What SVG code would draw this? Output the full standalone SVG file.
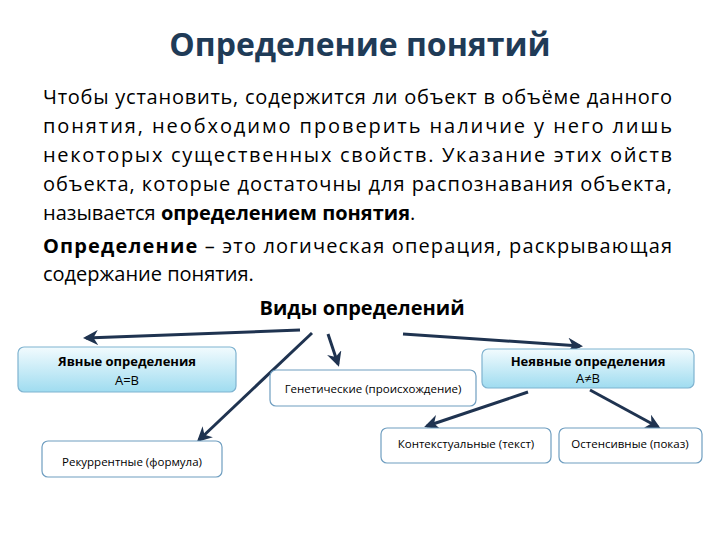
<svg xmlns="http://www.w3.org/2000/svg" width="720" height="540" viewBox="0 0 720 540">
<style>
text{font-family:"Open Sans","Liberation Sans",sans-serif;fill:#000}
.b{font-size:20px}
.bold{font-weight:bold}
.blue{fill:url(#g);stroke:#7fb3d0;stroke-width:1.2}
.white{fill:#fff;stroke:#6f9ec0;stroke-width:1.2}
.c line{stroke:#1f3350;stroke-width:3;marker-end:url(#a)}
.s{font-size:11.5px}
.m{font-size:13px;text-anchor:middle}
</style>
<defs>
<linearGradient id="g" x1="0" y1="0" x2="0" y2="1"><stop offset="0" stop-color="#f2fbfe"/><stop offset="1" stop-color="#9fdcf0"/></linearGradient>
<marker id="a" viewBox="0 0 10 10" refX="8" refY="5" markerWidth="5" markerHeight="5" orient="auto"><path d="M0,0 L10,5 L0,10 L3,5 z" fill="#1f3350"/></marker>
</defs>
<rect width="720" height="540" fill="#fff"/>
<text x="360" y="56" text-anchor="middle" style="font-size:32px;font-weight:bold;fill:#1f3b57">Определение понятий</text>
<g class="b">
<text x="43" y="104" textLength="629" lengthAdjust="spacing">Чтобы установить, содержится ли объект в объёме данного</text>
<text x="43" y="133" textLength="629" lengthAdjust="spacing">понятия, необходимо проверить наличие у него лишь</text>
<text x="43" y="162" textLength="629" lengthAdjust="spacing">некоторых существенных свойств. Указание этих ойств</text>
<text x="43" y="191" textLength="629" lengthAdjust="spacing">объекта, которые достаточны для распознавания объекта,</text>
<text x="43" y="220">называется <tspan class="bold">определением понятия</tspan>.</text>
<text x="43" y="253" textLength="629" lengthAdjust="spacing"><tspan class="bold">Определение</tspan> – это логическая операция, раскрывающая</text>
<text x="43" y="281">содержание понятия.</text>
<text x="362" y="315" text-anchor="middle" class="bold">Виды определений</text>
</g>
<g class="c">
<line x1="300" y1="330" x2="86" y2="338"/>
<line x1="312" y1="333" x2="199" y2="440"/>
<line x1="328" y1="334" x2="338" y2="364"/>
<line x1="403" y1="334" x2="580" y2="346"/>
<line x1="528" y1="392" x2="427" y2="426"/>
<line x1="590" y1="390" x2="658" y2="427"/>
</g>
<g id="explicit"><rect class="blue" x="18" y="347" width="218" height="45" rx="6"/>
<text class="m bold" x="127" y="366">Явные определения</text><text class="m" x="127" y="385">А=В</text></g>
<g id="genetic"><rect class="white" x="270" y="370" width="206" height="36" rx="6"/>
<text class="s" x="373" y="393" text-anchor="middle">Генетические (происхождение)</text></g>
<g id="implicit"><rect class="blue" x="482" y="349" width="212" height="39" rx="6"/>
<text class="m bold" x="588" y="366">Неявные определения</text><text class="m" x="588" y="383">А≠В</text></g>
<g id="recurrent"><rect class="white" x="42" y="441" width="180" height="36" rx="6"/>
<text class="s" x="132" y="466" text-anchor="middle">Рекуррентные (формула)</text></g>
<g id="context"><rect class="white" x="381" y="428" width="170" height="35" rx="6"/>
<text class="s" x="466" y="448" text-anchor="middle">Контекстуальные (текст)</text></g>
<g id="ostensive"><rect class="white" x="559" y="428" width="143" height="35" rx="6"/>
<text class="s" x="630" y="448" text-anchor="middle">Остенсивные (показ)</text></g>
</svg>
